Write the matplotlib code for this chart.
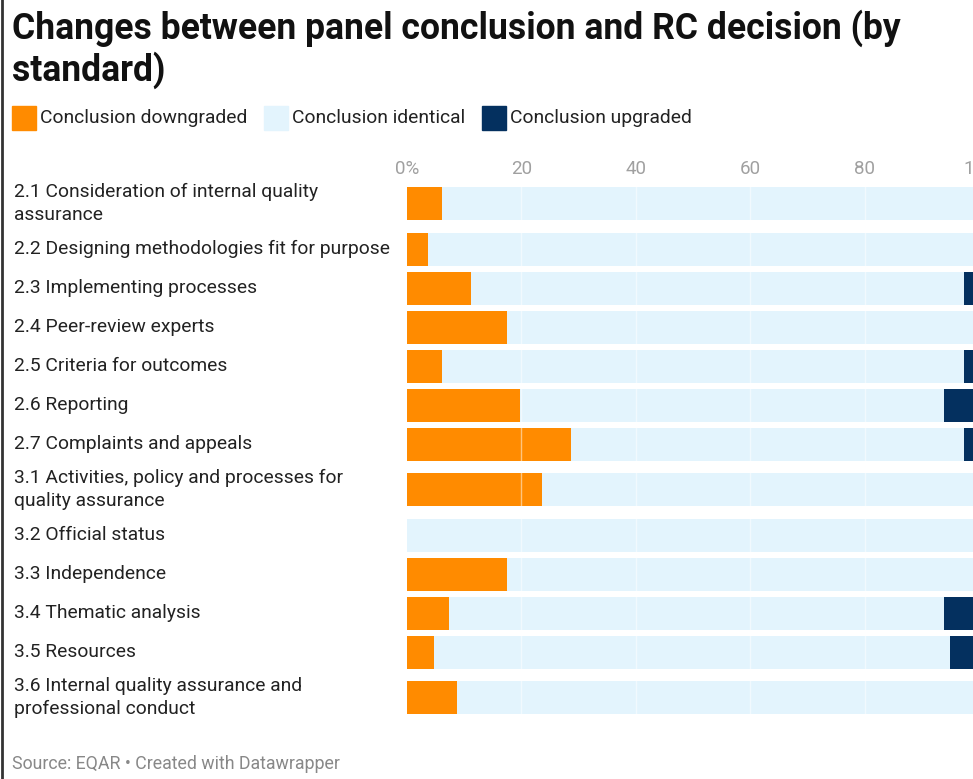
import matplotlib.pyplot as plt
from matplotlib.lines import Line2D

plt.rcParams["font.family"] = ["Roboto", "DejaVu Sans"]

standards = [
    "2.1 Consideration of internal quality\nassurance",
    "2.2 Designing methodologies fit for purpose",
    "2.3 Implementing processes",
    "2.4 Peer-review experts",
    "2.5 Criteria for outcomes",
    "2.6 Reporting",
    "2.7 Complaints and appeals",
    "3.1 Activities, policy and processes for\nquality assurance",
    "3.2 Official status",
    "3.3 Independence",
    "3.4 Thematic analysis",
    "3.5 Resources",
    "3.6 Internal quality assurance and\nprofessional conduct",
]
downgraded = [6.2, 3.6, 11.2, 17.4, 6.2, 19.8, 28.6, 23.6, 0.0, 17.4, 7.3, 4.7, 8.7]
upgraded = [0.0, 0.0, 2.7, 0.0, 2.7, 6.2, 2.7, 0.0, 0.0, 0.0, 6.2, 5.1, 0.0]
identical = [100 - d - u for d, u in zip(downgraded, upgraded)]

series_names = ["Conclusion downgraded", "Conclusion identical", "Conclusion upgraded"]
colors = ["#ff8b00", "#e3f4fd", "#04305f"]

W, H = 973, 779
fig = plt.figure(figsize=(W / 100, H / 100), dpi=100)

# row layout in pixels: single-line rows 39px, two-line rows 52px
row_h = [52 if "\n" in s else 39 for s in standards]
centers = []
acc = 0
for h in row_h:
    centers.append(acc + h / 2)
    acc += h
top_px = 203.5 - row_h[0] / 2
x0_px, x100_px = 407, 979

ax = fig.add_axes([x0_px / W, 1 - (top_px + acc) / H,
                   (x100_px - x0_px) / W, acc / H])
ax.set_xlim(0, 100)
ax.set_ylim(acc, 0)

bar_h = 33
left = [0] * len(standards)
for vals, c in zip([downgraded, identical, upgraded], colors):
    ax.barh(centers, vals, left=left, height=bar_h, color=c, linewidth=0)
    left = [l + v for l, v in zip(left, vals)]

for gx in [20, 40, 60, 80]:
    ax.axvline(gx, color="white", lw=1, alpha=0.5, zorder=3)

for s in ax.spines.values():
    s.set_visible(False)
ax.set_yticks([])
ax.xaxis.tick_top()
ax.set_xticks([0, 20, 40, 60, 80, 100])
ax.set_xticklabels(["0%", "20", "40", "60", "80", "100"])
ax.tick_params(axis="x", length=0, pad=0, labelsize=13.5, labelcolor="#a0a0a0")

for s, yc in zip(standards, centers):
    fig.text(14 / W, 1 - (top_px + yc) / H, s, ha="left", va="center",
             fontsize=13.9, color="#222222", linespacing=1.38)

fig.text(12 / W, 1 - 28 / H, "Changes between panel conclusion and RC decision (by",
         fontsize=25.6, fontweight="bold", color="#111111", va="center", ha="left")
fig.text(12 / W, 1 - 70 / H, "standard)",
         fontsize=25.6, fontweight="bold", color="#111111", va="center", ha="left")

# legend
leg_x = [12, 264, 482]
for lx, name, c in zip(leg_x, series_names, colors):
    fig.patches.append(plt.Rectangle((lx / W, 1 - 130 / H), 24 / W, 24 / H,
                                     color=c, transform=fig.transFigure))
    fig.text((lx + 28) / W, 1 - 118 / H, name, fontsize=13.9, color="#222222",
             va="center", ha="left")

fig.text(12 / W, 1 - 764 / H, "Source: EQAR \u2022 Created with Datawrapper",
         fontsize=12.8, color="#888888", va="center", ha="left")

fig.lines.append(Line2D([2 / W, 2 / W], [0, 1], color="#333333", lw=2,
                        transform=fig.transFigure))

fig.savefig("out.png", dpi=100)
